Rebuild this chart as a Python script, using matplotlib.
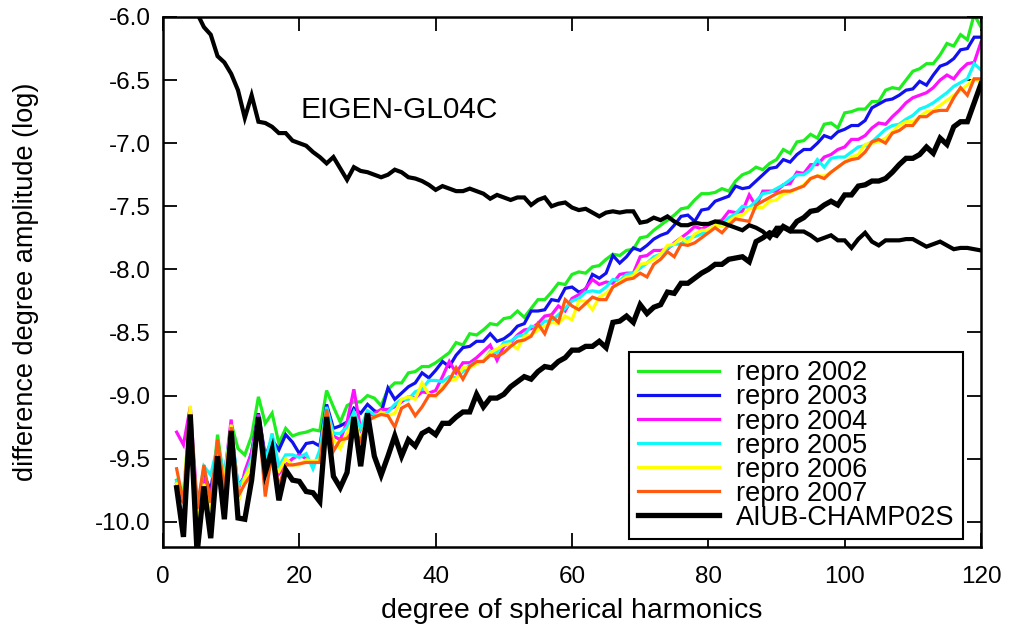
import numpy as np
import matplotlib
matplotlib.use("Agg")
import matplotlib.pyplot as plt

degrees = list(range(2, 121))

repro_2002 = [
    -9.67, -9.78, -9.12, -9.95, -9.60, -9.85, -9.31, -9.70, -9.22, -9.42,
    -9.47, -9.32, -9.01, -9.22, -9.14, -9.38, -9.26, -9.32, -9.30, -9.29,
    -9.27, -9.28, -8.96, -9.09, -9.21, -9.08, -9.05, -9.05, -9.00, -9.02,
    -9.08, -8.95, -8.90, -8.90, -8.82, -8.81, -8.77, -8.77, -8.74, -8.70,
    -8.66, -8.58, -8.60, -8.51, -8.52, -8.48, -8.43, -8.44, -8.39, -8.38,
    -8.33, -8.38, -8.31, -8.24, -8.24, -8.18, -8.11, -8.12, -8.04, -8.02,
    -8.03, -7.98, -7.97, -7.92, -7.88, -7.89, -7.85, -7.84, -7.75, -7.74,
    -7.69, -7.65, -7.61, -7.57, -7.52, -7.51, -7.45, -7.40, -7.40, -7.39,
    -7.36, -7.38, -7.30, -7.25, -7.23, -7.19, -7.21, -7.16, -7.13, -7.05,
    -7.08, -6.99, -6.98, -6.93, -6.96, -6.85, -6.84, -6.88, -6.76, -6.75,
    -6.73, -6.73, -6.67, -6.67, -6.58, -6.56, -6.57, -6.50, -6.43, -6.41,
    -6.37, -6.37, -6.30, -6.21, -6.23, -6.14, -6.18, -5.98, -6.08]

repro_2003 = [
    -9.70, -9.85, -9.13, -9.95, -9.63, -9.75, -9.40, -9.75, -9.27, -9.72,
    -9.64, -9.45, -9.14, -9.48, -9.35, -9.43, -9.31, -9.37, -9.46, -9.38,
    -9.37, -9.40, -9.07, -9.26, -9.24, -9.21, -9.10, -9.14, -9.07, -9.12,
    -9.14, -8.94, -9.03, -8.98, -8.93, -8.90, -8.82, -8.86, -8.80, -8.73,
    -8.77, -8.68, -8.62, -8.61, -8.57, -8.57, -8.51, -8.57, -8.55, -8.51,
    -8.45, -8.43, -8.33, -8.33, -8.32, -8.24, -8.25, -8.15, -8.14, -8.18,
    -8.16, -8.04, -8.07, -8.03, -7.89, -7.95, -7.90, -7.83, -7.85, -7.81,
    -7.76, -7.73, -7.71, -7.65, -7.58, -7.57, -7.62, -7.53, -7.52, -7.46,
    -7.44, -7.42, -7.34, -7.36, -7.35, -7.30, -7.25, -7.20, -7.19, -7.13,
    -7.15, -7.09, -7.05, -7.05, -7.00, -6.94, -6.96, -6.91, -6.89, -6.86,
    -6.86, -6.82, -6.72, -6.69, -6.66, -6.65, -6.62, -6.58, -6.57, -6.51,
    -6.54, -6.46, -6.39, -6.37, -6.33, -6.26, -6.25, -6.16, -6.16]

repro_2004 = [
    -9.29, -9.39, -9.09, -9.85, -9.65, -9.80, -9.42, -9.65, -9.19, -9.85,
    -9.60, -9.45, -9.15, -9.50, -9.45, -9.62, -9.55, -9.50, -9.47, -9.50,
    -9.54, -9.52, -9.13, -9.32, -9.35, -9.21, -8.95, -9.27, -9.17, -9.14,
    -9.11, -9.11, -9.09, -9.05, -9.01, -9.02, -8.97, -8.98, -8.96, -8.85,
    -8.73, -8.82, -8.74, -8.74, -8.70, -8.65, -8.60, -8.72, -8.61, -8.58,
    -8.52, -8.48, -8.47, -8.43, -8.37, -8.36, -8.29, -8.33, -8.23, -8.20,
    -8.15, -8.08, -8.12, -8.10, -8.11, -8.04, -8.03, -8.03, -7.90, -7.89,
    -7.85, -7.85, -7.84, -7.79, -7.75, -7.71, -7.66, -7.68, -7.65, -7.62,
    -7.61, -7.54, -7.55, -7.54, -7.41, -7.50, -7.38, -7.38, -7.38, -7.33,
    -7.32, -7.23, -7.24, -7.17, -7.17, -7.11, -7.09, -7.05, -7.03, -6.97,
    -6.97, -6.94, -6.88, -6.84, -6.85, -6.79, -6.74, -6.68, -6.64, -6.62,
    -6.60, -6.56, -6.50, -6.46, -6.49, -6.42, -6.37, -6.36, -6.20]

repro_2005 = [
    -9.68, -9.80, -9.15, -9.93, -9.56, -9.63, -9.40, -9.62, -9.25, -9.72,
    -9.65, -9.50, -9.17, -9.53, -9.30, -9.56, -9.47, -9.47, -9.49, -9.46,
    -9.58, -9.43, -9.09, -9.30, -9.30, -9.25, -9.13, -9.26, -9.12, -9.15,
    -9.15, -9.13, -9.07, -9.03, -9.03, -8.97, -8.95, -8.88, -8.88, -8.89,
    -8.85, -8.86, -8.81, -8.76, -8.73, -8.73, -8.65, -8.66, -8.58, -8.57,
    -8.53, -8.52, -8.45, -8.46, -8.41, -8.41, -8.36, -8.31, -8.25, -8.23,
    -8.18, -8.17, -8.18, -8.14, -8.08, -8.09, -8.04, -8.03, -7.99, -7.95,
    -7.90, -7.88, -7.83, -7.80, -7.80, -7.75, -7.74, -7.72, -7.69, -7.65,
    -7.64, -7.59, -7.56, -7.50, -7.51, -7.46, -7.40, -7.39, -7.36, -7.33,
    -7.29, -7.25, -7.25, -7.21, -7.13, -7.19, -7.12, -7.11, -7.11, -7.07,
    -7.03, -7.02, -6.99, -6.94, -6.89, -6.86, -6.85, -6.81, -6.78, -6.73,
    -6.71, -6.68, -6.64, -6.60, -6.55, -6.52, -6.49, -6.37, -6.42]

repro_2006 = [
    -9.70, -9.80, -9.08, -10.00, -9.70, -9.90, -9.40, -9.70, -9.23, -9.85,
    -9.65, -9.55, -9.20, -9.60, -9.55, -9.60, -9.50, -9.55, -9.55, -9.51,
    -9.52, -9.51, -9.15, -9.35, -9.42, -9.30, -9.19, -9.35, -9.18, -9.18,
    -9.13, -9.16, -9.14, -9.03, -9.01, -9.03, -8.90, -8.99, -9.01, -8.93,
    -8.88, -8.87, -8.78, -8.78, -8.75, -8.72, -8.66, -8.63, -8.60, -8.59,
    -8.63, -8.53, -8.52, -8.48, -8.45, -8.42, -8.43, -8.37, -8.40, -8.25,
    -8.25, -8.32, -8.22, -8.19, -8.14, -8.10, -8.06, -8.05, -7.96, -7.95,
    -7.92, -7.88, -7.81, -7.80, -7.75, -7.79, -7.72, -7.69, -7.69, -7.65,
    -7.66, -7.62, -7.58, -7.57, -7.52, -7.51, -7.51, -7.46, -7.45, -7.40,
    -7.39, -7.36, -7.33, -7.28, -7.26, -7.26, -7.23, -7.19, -7.15, -7.11,
    -7.09, -7.01, -7.00, -6.99, -6.96, -6.91, -6.86, -6.83, -6.83, -6.79,
    -6.75, -6.74, -6.70, -6.66, -6.62, -6.58, -6.54, -6.49, -6.52]

repro_2007 = [
    -9.58, -9.85, -9.15, -9.90, -9.55, -9.85, -9.35, -9.75, -9.25, -9.80,
    -9.70, -9.62, -9.18, -9.80, -9.45, -9.72, -9.55, -9.55, -9.54, -9.53,
    -9.53, -9.53, -9.11, -9.44, -9.35, -9.34, -9.27, -9.36, -9.20, -9.17,
    -9.15, -9.16, -9.25, -9.10, -9.07, -9.16, -9.09, -9.00, -9.00, -8.95,
    -8.88, -8.78, -8.87, -8.77, -8.73, -8.73, -8.68, -8.69, -8.66, -8.61,
    -8.57, -8.56, -8.53, -8.43, -8.51, -8.37, -8.42, -8.24, -8.29, -8.32,
    -8.27, -8.22, -8.24, -8.24, -8.14, -8.11, -8.08, -8.07, -8.03, -8.06,
    -7.96, -7.92, -7.86, -7.90, -7.80, -7.81, -7.79, -7.75, -7.71, -7.67,
    -7.71, -7.65, -7.60, -7.61, -7.62, -7.49, -7.46, -7.43, -7.40, -7.38,
    -7.38, -7.36, -7.34, -7.28, -7.26, -7.28, -7.23, -7.19, -7.15, -7.13,
    -7.12, -7.07, -6.99, -6.97, -7.00, -6.92, -6.90, -6.86, -6.86, -6.79,
    -6.79, -6.75, -6.74, -6.74, -6.64, -6.56, -6.62, -6.49, -6.49]

aiub_champ02s = [
    -9.73, -10.12, -9.15, -10.25, -9.72, -10.13, -9.48, -9.98, -9.28, -9.97,
    -9.98, -9.67, -9.17, -9.61, -9.43, -9.83, -9.59, -9.67, -9.68, -9.76,
    -9.77, -9.84, -9.17, -9.64, -9.73, -9.61, -9.17, -9.56, -9.14, -9.48,
    -9.63, -9.48, -9.32, -9.48, -9.35, -9.40, -9.30, -9.27, -9.31, -9.22,
    -9.22, -9.17, -9.13, -9.13, -8.99, -9.09, -9.02, -9.02, -8.99, -8.93,
    -8.89, -8.85, -8.87, -8.81, -8.77, -8.78, -8.73, -8.70, -8.64, -8.64,
    -8.61, -8.61, -8.57, -8.62, -8.42, -8.41, -8.37, -8.42, -8.28, -8.35,
    -8.30, -8.28, -8.18, -8.19, -8.11, -8.11, -8.07, -8.03, -8.00, -7.96,
    -7.96, -7.92, -7.91, -7.90, -7.94, -7.78, -7.75, -7.71, -7.73, -7.66,
    -7.69, -7.62, -7.59, -7.54, -7.53, -7.49, -7.46, -7.49, -7.41, -7.41,
    -7.34, -7.33, -7.30, -7.30, -7.28, -7.23, -7.17, -7.12, -7.12, -7.09,
    -7.03, -7.08, -6.96, -7.01, -6.87, -6.83, -6.83, -6.68, -6.53]

eigen_gl04c = [
    -5.50, -5.70, -5.85, -5.97, -6.08, -6.14, -6.31, -6.36, -6.45, -6.58,
    -6.80, -6.62, -6.83, -6.84, -6.87, -6.92, -6.92, -6.98, -7.00, -7.02,
    -7.07, -7.11, -7.16, -7.11, -7.20, -7.29, -7.19, -7.22, -7.23, -7.25,
    -7.27, -7.25, -7.21, -7.23, -7.27, -7.28, -7.30, -7.33, -7.37, -7.34,
    -7.36, -7.38, -7.38, -7.36, -7.38, -7.40, -7.44, -7.41, -7.43, -7.45,
    -7.43, -7.43, -7.49, -7.45, -7.43, -7.50, -7.48, -7.47, -7.51, -7.53,
    -7.52, -7.55, -7.58, -7.55, -7.54, -7.55, -7.54, -7.54, -7.63, -7.62,
    -7.59, -7.61, -7.58, -7.62, -7.65, -7.65, -7.63, -7.64, -7.64, -7.62,
    -7.63, -7.65, -7.67, -7.69, -7.65, -7.67, -7.70, -7.75, -7.67, -7.67,
    -7.70, -7.70, -7.70, -7.73, -7.77, -7.75, -7.73, -7.77, -7.77, -7.83,
    -7.76, -7.71, -7.78, -7.81, -7.77, -7.77, -7.77, -7.76, -7.76, -7.79,
    -7.82, -7.80, -7.78, -7.81, -7.84, -7.83, -7.83, -7.84, -7.85]

series_labels = ["repro 2002", "repro 2003", "repro 2004", "repro 2005",
                 "repro 2006", "repro 2007", "AIUB-CHAMP02S"]
x_ticks = [0, 20, 40, 60, 80, 100, 120]
y_ticks = [-10.0, -9.5, -9.0, -8.5, -8.0, -7.5, -7.0, -6.5, -6.0]

plt.rcParams['font.family'] = ['Liberation Sans', 'DejaVu Sans']

fig = plt.figure(figsize=(10.15, 6.27), dpi=100)
ax = fig.add_axes([0.1606, 0.1276, 0.8059, 0.8453])

colors = ["#1EEE1E", "#1010F0", "#FF10FF", "#10F8F8", "#FFFF00", "#FF5A10"]
repro = [repro_2002, repro_2003, repro_2004, repro_2005, repro_2006, repro_2007]
for vals, c, lab in zip(repro, colors, series_labels[:6]):
    ax.plot(degrees, vals, color=c, lw=2.3, label=lab, solid_joinstyle='miter')
ax.plot(degrees, aiub_champ02s, color="black", lw=3.8, label=series_labels[6],
        solid_joinstyle='miter')
ax.plot(degrees, eigen_gl04c, color="black", lw=3.0, solid_joinstyle='miter')

ax.text(20.1, -6.74, "EIGEN-GL04C", fontsize=21.5, ha='left', va='center')

ax.set_xlim(0, 120)
ax.set_ylim(-10.2, -6.0)
ax.set_xticks(x_ticks)
ax.set_yticks(y_ticks)
ax.set_yticklabels([f"{v:.1f}" for v in y_ticks])
ax.tick_params(direction='in', length=10, width=1.3, top=True, right=True,
               labelsize=17.5)
ax.tick_params(axis='x', pad=14)
ax.tick_params(axis='y', pad=9)
for s in ax.spines.values():
    s.set_linewidth(1.8)

ax.set_xlabel("degree of spherical harmonics", fontsize=20.5, labelpad=7)
ax.set_ylabel("difference degree amplitude (log)", fontsize=19.5, labelpad=40)

leg = ax.legend(loc='lower right', bbox_to_anchor=(0.978, 0.015),
                borderaxespad=0, fontsize=19.5, labelspacing=-0.07,
                handlelength=3.0, handletextpad=0.65, borderpad=0.3,
                fancybox=False, framealpha=1, edgecolor='black')
leg.get_frame().set_linewidth(1.5)

fig.savefig("out.png", dpi=100)
